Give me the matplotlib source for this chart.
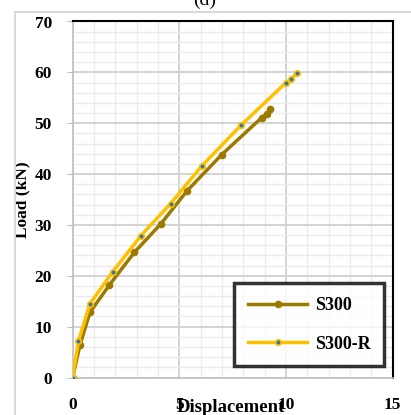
import matplotlib
matplotlib.use("Agg")
import matplotlib.pyplot as plt
from matplotlib.ticker import MultipleLocator
from matplotlib.patches import Rectangle

# Data
s300_x = [0, 0.34, 0.81, 1.72, 2.89, 4.13, 5.36, 6.98, 8.86, 9.10, 9.27]
s300_y = [0, 6.4, 12.8, 18.2, 24.6, 30.2, 36.7, 43.8, 51.1, 51.9, 52.7]
s300r_x = [0, 0.27, 0.81, 1.88, 3.20, 4.59, 6.05, 7.89, 10.0, 10.25, 10.5]
s300r_y = [0, 7.2, 14.5, 20.8, 27.9, 34.2, 41.6, 49.6, 58.0, 58.75, 59.8]
series_names = ["S300", "S300-R"]
x_ticks = [0, 5, 10, 15]
y_ticks = [0, 10, 20, 30, 40, 50, 60, 70]

plt.rcParams['font.family'] = ['Liberation Serif', 'DejaVu Serif']

fig = plt.figure(figsize=(4.11, 4.15), dpi=100)
# outer chart border
fig.patches.append(Rectangle((15/411, -0.1), 1.2, 1 - 12/415 + 0.1, transform=fig.transFigure,
                             fill=False, edgecolor='#D9D9D9', linewidth=1.5))
fig.text(205/411, 1.0, "(d)", ha='center', va='center', fontsize=14)

ax = fig.add_axes([72.7/411, 1 - 377.5/415, 320/411, 356/415])
ax.set_xlim(0, 15)
ax.set_ylim(0, 70)
ax.set_xticks(x_ticks)
ax.set_yticks(y_ticks)
ax.xaxis.set_minor_locator(MultipleLocator(1))
ax.yaxis.set_minor_locator(MultipleLocator(2))
ax.grid(which='major', color='#D0D0D0', linewidth=1.3)
ax.grid(which='minor', color='#EBEBEB', linewidth=1.0)
ax.set_axisbelow(True)

for s in ['top', 'right']:
    ax.spines[s].set_color('black')
    ax.spines[s].set_linewidth(1.5)
for s in ['left', 'bottom']:
    ax.spines[s].set_color('#BFBFBF')
    ax.spines[s].set_linewidth(1.2)

ax.tick_params(which='major', length=4, color='#BFBFBF', labelsize=12.5)
ax.tick_params(axis='x', which='major', length=0)
ax.tick_params(which='minor', length=0)
ax.tick_params(axis='y', pad=11)
ax.tick_params(axis='x', pad=14)
for lab in ax.get_xticklabels() + ax.get_yticklabels():
    lab.set_fontweight('bold')

ax.plot(s300_x, s300_y, color='#9C7A00', linewidth=2.5, marker='o', markersize=4.5,
        markerfacecolor='#9C7A00', markeredgecolor='#9C7A00', label=series_names[0], zorder=3)
ax.plot(s300r_x, s300r_y, color='#FFC000', linewidth=2.5, marker='o', markersize=4,
        markerfacecolor='#2E75B6', markeredgecolor='#FFC000', markeredgewidth=1.2,
        label=series_names[1], zorder=4)

ax.set_ylabel("Load (kN)", fontsize=12.5, fontweight='bold')
ax.yaxis.set_label_coords(-0.133, 0.5)
ax.set_xlabel("Displacement", fontsize=13.5, fontweight='bold')
ax.xaxis.set_label_coords(0.495, -0.06)

leg = ax.legend(loc='lower right', bbox_to_anchor=(0.972, 0.032), frameon=True, fancybox=False,
                edgecolor='black', prop={'weight': 'bold', 'size': 13},
                handlelength=3.3, borderpad=0.75, labelspacing=1.2, handletextpad=0.4,
                borderaxespad=0)
leg.get_frame().set_linewidth(2.5)

fig.savefig("out.png", dpi=100)
